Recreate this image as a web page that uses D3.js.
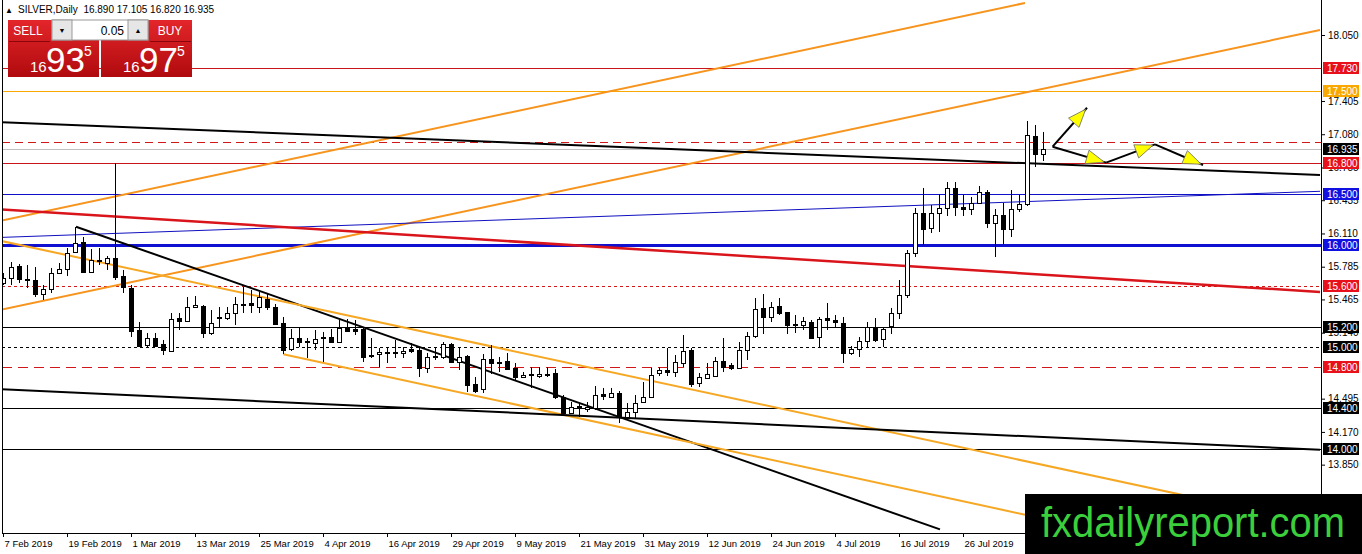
<!DOCTYPE html>
<html>
<head>
<meta charset="utf-8">
<script src="https://cdn.jsdelivr.net/npm/d3@7"></script>
<style>
  html, body { margin: 0; padding: 0; background: #fff; }
  svg { display: block; font-family: "Liberation Sans", Arial, sans-serif; }
</style>
</head>
<body>
<div id="chart"></div>
<script>
// SILVER daily candles, 7 Feb 2019 .. early Aug 2019 (bar index = trading day)
const opens = [
  15.630, 15.675, 15.792, 15.665, 15.655, 15.518, 15.567, 15.723, 15.763, 15.929,
  16.026, 15.733, 15.851, 15.821, 15.870, 15.694, 15.577, 15.166, 15.020, 15.088,
  15.029, 14.961, 15.283, 15.254, 15.391, 15.401, 15.137, 15.293, 15.283, 15.332,
  15.420, 15.430, 15.391, 15.469, 15.391, 15.235, 14.981, 15.088, 15.059, 15.039,
  15.098, 15.098, 15.049, 15.196, 15.176, 15.176, 14.922, 14.932, 14.951, 14.951,
  14.941, 14.981, 14.971, 14.795, 14.902, 14.902, 15.029, 14.854, 14.912, 14.638,
  14.589, 14.883, 14.854, 14.863, 14.795, 14.707, 14.736, 14.717, 14.736, 14.746,
  14.511, 14.355, 14.423, 14.394, 14.404, 14.541, 14.511, 14.550, 14.316, 14.365,
  14.463, 14.511, 14.746, 14.775, 14.756, 14.844, 14.971, 14.648, 14.697, 14.717,
  14.863, 14.824, 14.795, 14.971, 15.108, 15.381, 15.293, 15.401, 15.342, 15.225,
  15.215, 15.244, 15.098, 15.283, 15.264, 15.235, 14.941, 14.981, 15.059, 15.196,
  15.078, 15.205, 15.332, 15.508, 15.919, 16.310, 16.163, 16.310, 16.359, 16.554,
  16.369, 16.349, 16.408, 16.515, 16.212, 16.290, 16.154, 16.349, 16.398, 17.062,
  16.890
];
const highs = [
  15.720, 15.831, 15.811, 15.802, 15.782, 15.606, 15.772, 15.821, 15.968, 16.173,
  16.075, 15.958, 15.968, 15.890, 16.799, 15.753, 15.606, 15.244, 15.137, 15.137,
  15.068, 15.332, 15.332, 15.489, 15.499, 15.411, 15.362, 15.391, 15.391, 15.489,
  15.587, 15.557, 15.538, 15.528, 15.420, 15.293, 15.176, 15.186, 15.088, 15.166,
  15.147, 15.176, 15.264, 15.274, 15.264, 15.196, 15.088, 14.990, 15.000, 15.068,
  15.000, 15.039, 15.000, 14.941, 15.000, 15.049, 15.039, 14.990, 14.922, 14.707,
  14.932, 15.020, 14.902, 14.941, 14.844, 14.756, 14.805, 14.805, 14.805, 14.785,
  14.531, 14.463, 14.453, 14.463, 14.619, 14.599, 14.599, 14.570, 14.453, 14.531,
  14.658, 14.795, 14.805, 14.990, 14.922, 15.117, 14.990, 14.746, 14.844, 14.902,
  15.088, 14.844, 15.049, 15.147, 15.479, 15.518, 15.440, 15.479, 15.342, 15.313,
  15.293, 15.264, 15.293, 15.430, 15.313, 15.293, 15.010, 15.098, 15.244, 15.283,
  15.196, 15.381, 15.655, 15.948, 16.359, 16.554, 16.388, 16.496, 16.613, 16.613,
  16.486, 16.466, 16.574, 16.535, 16.349, 16.408, 16.535, 16.486, 17.209, 17.170,
  17.105
];
const lows = [
  15.606, 15.606, 15.626, 15.577, 15.489, 15.460, 15.528, 15.714, 15.694, 15.919,
  15.723, 15.723, 15.802, 15.753, 15.655, 15.528, 15.098, 15.000, 15.000, 15.000,
  14.922, 14.951, 15.166, 15.244, 15.381, 15.088, 15.117, 15.186, 15.264, 15.215,
  15.332, 15.332, 15.332, 15.362, 15.215, 14.932, 14.961, 15.000, 14.893, 14.971,
  14.854, 15.039, 15.039, 15.147, 15.117, 14.854, 14.893, 14.805, 14.844, 14.893,
  14.893, 14.941, 14.707, 14.746, 14.873, 14.883, 14.844, 14.775, 14.560, 14.550,
  14.550, 14.736, 14.756, 14.775, 14.678, 14.697, 14.599, 14.697, 14.707, 14.492,
  14.345, 14.345, 14.316, 14.365, 14.384, 14.482, 14.502, 14.257, 14.306, 14.306,
  14.453, 14.511, 14.717, 14.717, 14.707, 14.805, 14.609, 14.609, 14.687, 14.707,
  14.756, 14.775, 14.785, 14.873, 15.088, 15.127, 15.244, 15.313, 15.127, 15.137,
  15.166, 15.078, 15.000, 15.166, 15.186, 14.844, 14.922, 14.902, 15.000, 15.049,
  15.000, 15.127, 15.274, 15.479, 15.880, 15.997, 16.114, 16.124, 16.281, 16.281,
  16.281, 16.290, 16.398, 16.163, 15.880, 16.007, 16.075, 16.320, 16.378, 16.760,
  16.820
];
const closes = [
  15.675, 15.782, 15.665, 15.655, 15.518, 15.567, 15.723, 15.763, 15.919, 16.017,
  15.733, 15.851, 15.841, 15.870, 15.684, 15.587, 15.156, 15.010, 15.088, 15.010,
  14.971, 15.274, 15.254, 15.391, 15.411, 15.137, 15.235, 15.283, 15.332, 15.420,
  15.411, 15.411, 15.489, 15.391, 15.225, 14.971, 15.088, 15.049, 15.049, 15.078,
  15.088, 15.049, 15.186, 15.156, 15.156, 14.902, 14.912, 14.951, 14.941, 14.941,
  14.961, 14.961, 14.795, 14.902, 14.912, 15.029, 14.854, 14.902, 14.629, 14.570,
  14.883, 14.844, 14.844, 14.785, 14.707, 14.727, 14.727, 14.736, 14.727, 14.511,
  14.355, 14.414, 14.414, 14.414, 14.531, 14.521, 14.550, 14.316, 14.365, 14.453,
  14.511, 14.727, 14.775, 14.756, 14.854, 14.961, 14.638, 14.707, 14.736, 14.863,
  14.805, 14.795, 14.971, 15.108, 15.372, 15.293, 15.391, 15.332, 15.215, 15.215,
  15.254, 15.088, 15.274, 15.264, 15.244, 14.941, 14.981, 15.059, 15.196, 15.068,
  15.176, 15.332, 15.508, 15.919, 16.310, 16.154, 16.310, 16.359, 16.554, 16.369,
  16.349, 16.408, 16.515, 16.212, 16.290, 16.154, 16.349, 16.398, 17.072, 16.887,
  16.935
];

// x-axis tick labels (every 8th bar)
const dateTickBars = [0, 8, 16, 24, 32, 40, 48, 56, 64, 72, 80, 88, 96, 104, 112, 120];
const dateTickLabels = [
  "7 Feb 2019", "19 Feb 2019", "1 Mar 2019", "13 Mar 2019", "25 Mar 2019", "4 Apr 2019",
  "16 Apr 2019", "29 Apr 2019", "9 May 2019", "21 May 2019", "31 May 2019", "12 Jun 2019",
  "24 Jun 2019", "4 Jul 2019", "16 Jul 2019", "26 Jul 2019"
];

// price axis ticks (the ones not hidden under level labels)
const priceTicks = [18.050, 17.405, 17.080, 16.755, 16.435, 16.110, 15.785,
  15.465, 15.140, 14.495, 14.170, 13.850, 13.525];

// horizontal levels: price, line colour, width, dash, label bg (null = no label)
const levelPrices = [17.730, 17.500, 17.000, 16.935, 16.800, 16.500, 16.000, 15.600, 15.200, 15.000, 14.800, 14.400, 14.000];
const levelColors = ["#c8141a", "#f8a800", "#d01818", "#c0c0c0", "#c8141a", "#1010c8", "#1010d0", "#d01818", "#000", "#000", "#d01818", "#000", "#000"];
const levelWidths = [1, 1, 1, 1, 1, 1, 3, 1, 1, 1, 1, 1, 1];
const levelDashes = [null, null, "8,5", null, null, null, null, "3,3", null, "3,3", "10,6", null, null];
const levelLabelBg = ["#e8101a", "#f8a800", null, "#000", "#e8101a", "#1010e0", "#1010e0", "#e8101a", "#000", "#000", "#e8101a", "#000", "#000"];

// trend lines: [bar, price] endpoints
const trendLines = [
  { pts: [[-0.375, 16.232], [127.75, 18.363]], color: "#f7941d", width: 2 },
  { pts: [[-0.375, 15.362], [164.625, 18.099]], color: "#f7941d", width: 2 },
  { pts: [[-0.375, 17.199], [164.625, 16.681]], color: "#000", width: 2 },
  { pts: [[-0.375, 16.071], [164.625, 16.522]], color: "#1010c0", width: 1 },
  { pts: [[-0.375, 16.346], [164.625, 15.538]], color: "#d9141b", width: 2.5 },
  { pts: [[9.125, 16.176], [117.125, 13.217]], color: "#000", width: 2 },
  { pts: [[-0.375, 16.039], [164.625, 13.265]], color: "#f6a824", width: 2 },
  { pts: [[35.04, 14.929], [127.75, 13.361]], color: "#f6a824", width: 2 },
  { pts: [[-0.375, 14.587], [164.625, 13.996]], color: "#000", width: 2 }
];

// projected path with arrowheads
const arrowPaths = [
  [[131.2, 16.958], [135.5, 17.339]],
  [[131.2, 16.958], [137.9, 16.802], [144.0, 16.981], [150.0, 16.779]]
];

const W = 1362, H = 554;
const plotRight = 1321, plotBottom = 533;

const x = d3.scaleLinear().domain([0, 130]).range([3, 1043]);
const y = d3.scaleLinear().domain([14.0, 18.05]).range([449.3, 35]);

const svg = d3.select("#chart").append("svg")
  .attr("width", W).attr("height", H);

const defs = svg.append("defs");
defs.append("clipPath").attr("id", "plotClip")
  .append("rect").attr("x", 2).attr("y", 0).attr("width", plotRight - 2).attr("height", plotBottom);

const grad = defs.append("linearGradient").attr("id", "redGrad")
  .attr("x1", 0).attr("y1", 0).attr("x2", 0).attr("y2", 1);
grad.append("stop").attr("offset", "0%").attr("stop-color", "#e3262b");
grad.append("stop").attr("offset", "100%").attr("stop-color", "#b00a0e");

const plot = svg.append("g").attr("clip-path", "url(#plotClip)");

// levels
levelPrices.forEach((p, i) => {
  plot.append("line")
    .attr("x1", 2).attr("x2", plotRight)
    .attr("y1", Math.round(y(p)) + 0.5).attr("y2", Math.round(y(p)) + 0.5)
    .attr("stroke", levelColors[i]).attr("stroke-width", levelWidths[i])
    .attr("stroke-dasharray", levelDashes[i]);
});

// trend lines
trendLines.forEach(t => {
  plot.append("line")
    .attr("x1", x(t.pts[0][0])).attr("y1", y(t.pts[0][1]))
    .attr("x2", x(t.pts[1][0])).attr("y2", y(t.pts[1][1]))
    .attr("stroke", t.color).attr("stroke-width", t.width);
});

// candles
const bars = d3.range(opens.length);
const candles = plot.append("g").attr("shape-rendering", "crispEdges");
candles.selectAll("line.wick")
  .data(bars)
  .join("line")
  .attr("class", "wick")
  .attr("x1", i => Math.round(x(i)) + 0.5).attr("x2", i => Math.round(x(i)) + 0.5)
  .attr("y1", i => y(highs[i])).attr("y2", i => y(lows[i]))
  .attr("stroke", "#000").attr("stroke-width", 1);
candles.selectAll("rect.body")
  .data(bars)
  .join("rect")
  .attr("class", "body")
  .attr("x", i => Math.round(x(i)) - 2 + 0.5)
  .attr("y", i => Math.round(y(Math.max(opens[i], closes[i]))) + 0.5)
  .attr("width", 4)
  .attr("height", i => Math.max(1, Math.round(Math.abs(y(opens[i]) - y(closes[i])))))
  .attr("fill", i => closes[i] >= opens[i] ? "#fff" : "#000")
  .attr("stroke", "#000").attr("stroke-width", 1);

// arrows
function arrowHead(g, a, b) {
  const x1 = x(a[0]), y1 = y(a[1]), x2 = x(b[0]), y2 = y(b[1]);
  const ang = Math.atan2(y2 - y1, x2 - x1);
  const len = 18, half = 7;
  const tipX = x2 - Math.cos(ang) * 2, tipY = y2 - Math.sin(ang) * 2;
  const bx = tipX - Math.cos(ang) * len, by = tipY - Math.sin(ang) * len;
  const px = -Math.sin(ang) * half, py = Math.cos(ang) * half;
  g.append("path")
    .attr("d", `M${tipX},${tipY}L${bx + px},${by + py}L${bx - px},${by - py}Z`)
    .attr("fill", "#ffff00").attr("stroke", "#666").attr("stroke-width", 0.8);
}
const arrows = plot.append("g");
arrowPaths.forEach(path => {
  for (let k = 1; k < path.length; k++) {
    arrows.append("line")
      .attr("x1", x(path[k - 1][0])).attr("y1", y(path[k - 1][1]))
      .attr("x2", x(path[k][0])).attr("y2", y(path[k][1]))
      .attr("stroke", "#000").attr("stroke-width", 2);
  }
});
arrowPaths.forEach(path => {
  for (let k = 1; k < path.length; k++) arrowHead(arrows, path[k - 1], path[k]);
});

// frame
svg.append("line").attr("x1", plotRight + 0.5).attr("x2", plotRight + 0.5)
  .attr("y1", 0).attr("y2", H).attr("stroke", "#000");
svg.append("line").attr("x1", 2.5).attr("x2", 2.5)
  .attr("y1", 0).attr("y2", plotBottom).attr("stroke", "#000");
svg.append("line").attr("x1", 2).attr("x2", plotRight)
  .attr("y1", plotBottom + 0.5).attr("y2", plotBottom + 0.5).attr("stroke", "#000");

// price axis
const yAxisG = svg.append("g")
  .attr("transform", `translate(${plotRight},0)`)
  .call(d3.axisRight(y).tickValues(priceTicks).tickFormat(d3.format(".3f")).tickSize(4).tickSizeOuter(0));
yAxisG.select(".domain").remove();
yAxisG.selectAll("text").attr("font-size", 10).attr("font-family", "Liberation Sans, Arial, sans-serif").attr("fill", "#000");

// level labels
levelPrices.forEach((p, i) => {
  if (!levelLabelBg[i]) return;
  const yy = Math.round(y(p));
  svg.append("rect")
    .attr("x", plotRight + 2).attr("y", yy - 6)
    .attr("width", 36).attr("height", 12)
    .attr("fill", levelLabelBg[i]);
  svg.append("text")
    .attr("x", plotRight + 6).attr("y", yy + 4)
    .attr("font-size", 10).attr("fill", "#fff")
    .text(p.toFixed(3));
});

// date axis
const xAxisG = svg.append("g")
  .attr("transform", `translate(0,${plotBottom})`)
  .call(d3.axisBottom(x).tickValues(dateTickBars)
    .tickFormat((d, i) => dateTickLabels[i]).tickSize(4).tickSizeOuter(0));
xAxisG.select(".domain").remove();
xAxisG.selectAll("text")
  .attr("text-anchor", "start").attr("x", 1).attr("y", 7)
  .attr("font-size", 9.5).attr("font-family", "Liberation Sans, Arial, sans-serif").attr("fill", "#000");

// header
svg.append("text").attr("x", 5).attr("y", 13).attr("font-size", 8).text("\u25B2");
svg.append("text").attr("x", 18).attr("y", 13).attr("font-size", 10).attr("fill", "#000")
  .attr("xml:space", "preserve")
  .text("SILVER,Daily  16.890 17.105 16.820 16.935");

// trade panel
const panel = svg.append("g");
panel.append("rect").attr("x", 8).attr("y", 20).attr("width", 91).attr("height", 57).attr("fill", "url(#redGrad)");
panel.append("rect").attr("x", 101).attr("y", 20).attr("width", 91).attr("height", 57).attr("fill", "url(#redGrad)");
panel.append("line").attr("x1", 9).attr("x2", 50).attr("y1", 41.5).attr("y2", 41.5).attr("stroke", "#8a0608");
panel.append("line").attr("x1", 150).attr("x2", 191).attr("y1", 41.5).attr("y2", 41.5).attr("stroke", "#8a0608");
panel.append("rect").attr("x", 52).attr("y", 20).attr("width", 96).attr("height", 20).attr("fill", "#fff").attr("stroke", "#999");
panel.append("rect").attr("x", 52).attr("y", 20).attr("width", 20).attr("height", 20).attr("fill", "#e6e6e6").attr("stroke", "#999");
panel.append("rect").attr("x", 128).attr("y", 20).attr("width", 20).attr("height", 20).attr("fill", "#e6e6e6").attr("stroke", "#999");
panel.append("text").attr("x", 62).attr("y", 33).attr("font-size", 7).attr("text-anchor", "middle").text("\u25BC");
panel.append("text").attr("x", 138).attr("y", 33).attr("font-size", 7).attr("text-anchor", "middle").text("\u25B2");
panel.append("text").attr("x", 124).attr("y", 35).attr("font-size", 12).attr("text-anchor", "end").text("0.05");
panel.append("text").attr("x", 28).attr("y", 35).attr("font-size", 12).attr("fill", "#fff").attr("text-anchor", "middle").text("SELL");
panel.append("text").attr("x", 170).attr("y", 35).attr("font-size", 12).attr("fill", "#fff").attr("text-anchor", "middle").text("BUY");
[[30, "93"], [123, "97"]].forEach(([bx, big]) => {
  panel.append("text").attr("x", bx).attr("y", 72).attr("font-size", 15).attr("fill", "#fff").text("16");
  panel.append("text").attr("x", bx + 16).attr("y", 72).attr("font-size", 35).attr("fill", "#fff").text(big);
  panel.append("text").attr("x", bx + 54).attr("y", 56).attr("font-size", 14).attr("fill", "#fff").text("5");
});

// watermark
svg.append("rect").attr("x", 1025).attr("y", 494).attr("width", W - 1025).attr("height", H - 494).attr("fill", "#000");
svg.append("text").attr("x", 1041).attr("y", 537)
  .attr("font-family", "Liberation Sans, Arial, sans-serif")
  .attr("font-size", 42).attr("fill", "#3ccf3c")
  .attr("textLength", 304).attr("lengthAdjust", "spacingAndGlyphs")
  .text("fxdailyreport.com");
</script>
</body>
</html>
